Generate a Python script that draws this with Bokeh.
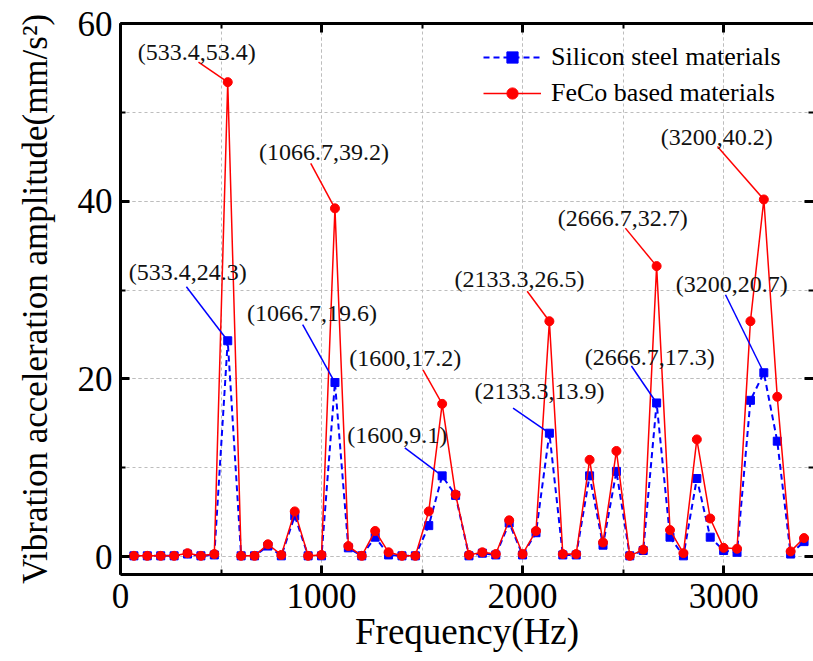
from bokeh.plotting import figure
from bokeh.models import (LinearAxis, Range1d, Legend, LegendItem, Label,
                          SingleIntervalTicker, ColumnDataSource)
from bokeh.embed import file_html
from bokeh.resources import INLINE

# ---------------- data ----------------
freq = [66.7, 133.3, 200.0, 266.7, 333.3, 400.0, 466.7, 533.4, 600.0, 666.7,
        733.3, 800.0, 866.7, 933.3, 1000.0, 1066.7, 1133.3, 1200.0, 1266.7, 1333.3,
        1400.0, 1466.7, 1533.3, 1600.0, 1666.7, 1733.3, 1800.0, 1866.7, 1933.3, 2000.0,
        2066.7, 2133.3, 2200.0, 2266.7, 2333.3, 2400.0, 2466.7, 2533.3, 2600.0, 2666.7,
        2733.3, 2800.0, 2866.7, 2933.3, 3000.0, 3066.7, 3133.3, 3200.0, 3266.7, 3333.3,
        3400.0]

silicon = [0.1, 0.1, 0.1, 0.1, 0.3, 0.1, 0.2, 24.3, 0.1, 0.1,
           1.2, 0.1, 4.6, 0.1, 0.1, 19.6, 1.0, 0.1, 2.2, 0.2,
           0.1, 0.1, 3.5, 9.1, 6.9, 0.1, 0.4, 0.2, 3.8, 0.2,
           2.7, 13.9, 0.2, 0.2, 9.1, 1.3, 9.6, 0.1, 0.7, 17.3,
           2.2, 0.1, 8.8, 2.2, 0.7, 0.5, 17.6, 20.7, 13.0, 0.3,
           1.7]

feco = [0.1, 0.1, 0.1, 0.1, 0.4, 0.1, 0.3, 53.4, 0.1, 0.1,
        1.4, 0.2, 5.1, 0.1, 0.2, 39.2, 1.2, 0.1, 2.9, 0.5,
        0.1, 0.1, 5.1, 17.2, 7.0, 0.2, 0.5, 0.3, 4.1, 0.3,
        2.9, 26.5, 0.3, 0.3, 10.9, 1.6, 11.9, 0.1, 0.8, 32.7,
        3.0, 0.4, 13.2, 4.3, 1.0, 0.9, 26.5, 40.2, 18.0, 0.6,
        2.1]

series_names = ["Silicon steel materials", "FeCo based materials"]

# annotated peaks
red_peak_x = [533.4, 1066.7, 1600.0, 2133.3, 2666.7, 3200.0]
red_peak_y = [53.4, 39.2, 17.2, 26.5, 32.7, 40.2]
blue_peak_x = [533.4, 1066.7, 1600.0, 2133.3, 2666.7, 3200.0]
blue_peak_y = [24.3, 19.6, 9.1, 13.9, 17.3, 20.7]

# label / leader offsets in screen pixels (label dx, dy, leader dx, dy)
red_offsets = [(-31, 30, -29, 20), (-11, 56, -24, 45), (-37, 46, -19, 34),
               (-30, 42, -22, 30), (-34, 48, -31, 38), (-47, 62, -46, 53)]
blue_offsets = [(-40, 69, -41, 54), (-23, 70, -32, 58), (-45, 41, -37, 28),
                (-10, 42, -36, 25), (-7, 46, -25, 37), (-32, 89, -38, 78)]

# ---------------- figure ----------------
FRAME_W, FRAME_H = 687, 551
X0, X1, Y0, Y1 = 0, 3447, -2, 60

FONT = "Liberation Serif"

p = figure(width=813, height=661, x_range=Range1d(X0, X1), y_range=Range1d(Y0, Y1),
           output_backend="svg", toolbar_location=None,
           min_border_left=120, min_border_top=23, min_border_right=0,
           min_border_bottom=87)
p.outline_line_color = None
p.background_fill_color = "white"
p.border_fill_color = "white"

xt = SingleIntervalTicker(interval=1000, num_minor_ticks=2)
yt = SingleIntervalTicker(interval=20, num_minor_ticks=2)

def style_axis(ax, ticker, labels=True):
    ax.ticker = ticker
    ax.axis_line_width = 3
    ax.axis_line_color = "black"
    ax.major_tick_in = 9
    ax.major_tick_out = 0
    ax.minor_tick_in = 5
    ax.minor_tick_out = 0
    ax.major_tick_line_width = 3
    ax.minor_tick_line_width = 2
    ax.major_tick_line_color = "black"
    ax.minor_tick_line_color = "black"
    ax.major_label_text_font = FONT
    if labels:
        ax.major_label_text_color = "black"
        ax.major_label_text_font_size = "35px"
    else:
        ax.major_label_text_color = None
        ax.major_label_text_font_size = "1px"
        ax.major_label_standoff = 0

style_axis(p.xaxis[0], xt)
style_axis(p.yaxis[0], yt)
p.xaxis[0].major_label_standoff = 9
p.yaxis[0].major_label_standoff = 8
p.xaxis[0].axis_label = "Frequency(Hz)"
p.yaxis[0].axis_label = "Vibration acceleration amplitude(mm/s²)"
for ax in (p.xaxis[0], p.yaxis[0]):
    ax.axis_label_text_font = FONT
    ax.axis_label_text_font_style = "normal"
    ax.axis_label_text_color = "black"
p.xaxis[0].axis_label_text_font_size = "37px"
p.xaxis[0].axis_label_standoff = 0
p.yaxis[0].axis_label_text_font_size = "35px"
p.yaxis[0].axis_label_standoff = 20

top_ax = LinearAxis()
style_axis(top_ax, SingleIntervalTicker(interval=1000, num_minor_ticks=2), labels=False)
right_ax = LinearAxis()
style_axis(right_ax, SingleIntervalTicker(interval=20, num_minor_ticks=2), labels=False)
right_ax.axis_line_color = None
p.add_layout(top_ax, "above")
p.add_layout(right_ax, "right")

for g, t in ((p.xgrid[0], xt), (p.ygrid[0], yt)):
    g.ticker = t
    g.grid_line_color = "#bdbdbd"
    g.grid_line_dash = "3 3"
    g.grid_line_width = 1
    g.minor_grid_line_color = "#bdbdbd"
    g.minor_grid_line_dash = "3 3"
    g.minor_grid_line_width = 1

# ---------------- series ----------------
src = ColumnDataSource(dict(f=freq, si=silicon, fe=feco))
bl = p.line("f", "si", source=src, color="#0000ff", line_width=2, line_dash="6 4")
bs = p.scatter("f", "si", source=src, marker="square", size=8, color="#0000ff")
rl = p.line("f", "fe", source=src, color="#ff0000", line_width=1.5)
rs = p.scatter("f", "fe", source=src, marker="circle", size=9, color="#ff0000")

legend = Legend(items=[LegendItem(label=series_names[0], renderers=[bl, bs]),
                       LegendItem(label=series_names[1], renderers=[rl, rs])],
                location=(363, 466))
legend.border_line_color = None
legend.background_fill_alpha = 0
legend.label_text_font = FONT
legend.label_text_font_size = "26px"
legend.label_text_color = "black"
legend.glyph_width = 58
legend.glyph_height = 28
legend.label_height = 28
legend.spacing = 6
legend.label_standoff = 10
legend.padding = 6
legend.margin = 0
p.add_layout(legend)

# ---------------- annotations ----------------
sx = (X1 - X0) / FRAME_W
sy = (Y1 - Y0) / FRAME_H

def annotate(xs, ys, offs, color):
    x0s, y0s = [], []
    for x, y, (ldx, ldy, sdx, sdy) in zip(xs, ys, offs):
        txt = "(%s,%s)" % (("%g" % x), ("%g" % y))
        p.add_layout(Label(x=x, y=y, x_offset=ldx, y_offset=ldy, text=txt,
                           text_font=FONT, text_font_size="24px", text_color="#111111",
                           text_align="center", text_baseline="middle"))
        x0s.append(x + sdx * sx)
        y0s.append(y + sdy * sy)
    p.segment(x0s, y0s, xs, ys, line_color=color, line_width=1.5)

annotate(red_peak_x, red_peak_y, red_offsets, "#ff0000")
annotate(blue_peak_x, blue_peak_y, blue_offsets, "#0000ff")

open("out.html", "w").write(file_html(p, INLINE))
